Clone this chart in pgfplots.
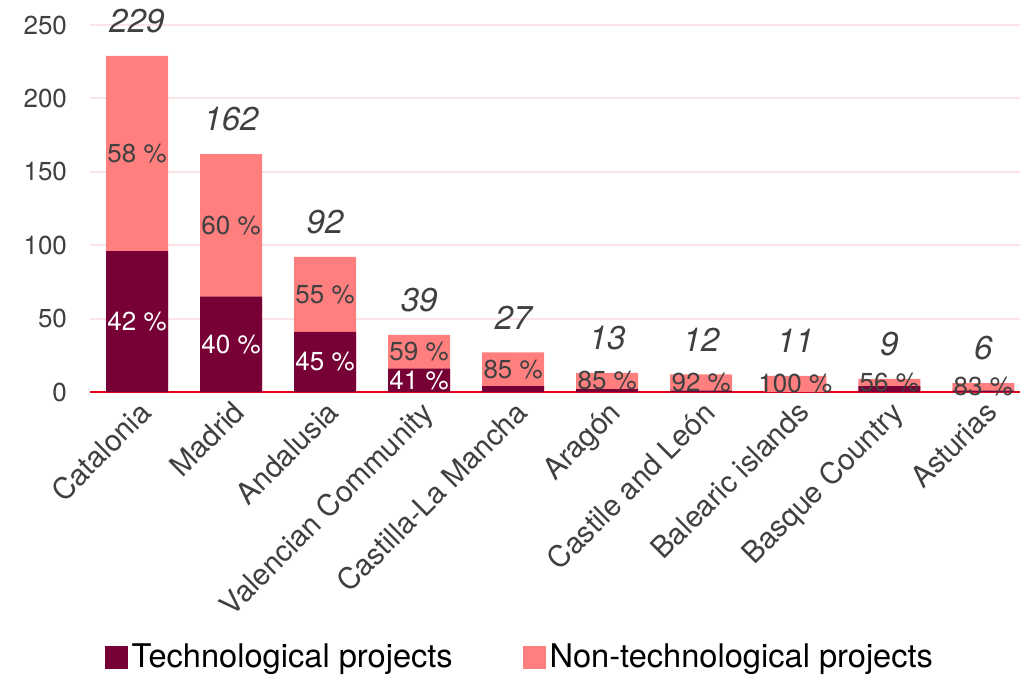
\documentclass[border=0pt]{standalone}
\usepackage{fontspec}
\setmainfont{TeX Gyre Heros}
\usepackage{pgfplots}
\pgfplotsset{compat=1.18}
\definecolor{Ctech}{HTML}{770036}
\definecolor{Cnon}{HTML}{FF7F7F}
\definecolor{Cgrid}{HTML}{FCE4E6}
\definecolor{Caxis}{HTML}{E5001A}
\definecolor{Ctext}{HTML}{404040}

% x, technological, non-technological, total
\pgfplotstableread{
x tech non total
0 96 133 229
1 65 97 162
2 41 51 92
3 16 23 39
4 4 23 27
5 2 11 13
6 1 11 12
7 0 11 11
8 4 5 9
9 1 5 6
}\regions

\begin{document}
\begin{tikzpicture}
\useasboundingbox (-45pt,-141.5pt) rectangle (465pt,196pt);
\begin{axis}[
  at={(0,0)}, anchor=south west,
  scale only axis,
  width=465pt, height=183.5pt,
  ybar, bar width=31pt, bar shift=0pt,
  xmin=-0.5, xmax=9.39,
  ymin=0, ymax=250,
  ytick={0,50,100,150,200,250},
  xtick=data,
  xticklabels={Catalonia,Madrid,Andalusia,Valencian Community,Castilla-La Mancha,Aragón,Castile and León,Balearic islands,Basque Country,Asturias},
  xticklabel style={rotate=45, anchor=north east, font=\fontsize{14.8}{16}\selectfont, text=Ctext, xshift=1pt, yshift=1pt},
  yticklabel style={font=\fontsize{13}{15}\selectfont, text=Ctext, xshift=-8pt},
  /pgf/number format/assume math mode=true,
  major tick length=0pt,
  axis lines=left,
  axis line style={-},
  y axis line style={draw=none},
  x axis line style={Caxis, line width=1pt},
  ymajorgrids, grid style={Cgrid, line width=1pt},
  clip=false,
  legend columns=2,
  legend cell align=left,
  legend style={at={(0.4634,-0.722)}, anchor=center, draw=none, fill=none,
    font=\fontsize{16.3}{18}\selectfont, text=black,
    /tikz/every even column/.append style={column sep=33pt}},
  legend image code/.code={\fill[#1] (0pt,-5.5pt) rectangle (11pt,5.5pt);},
]
\addplot[fill=Cnon, draw=none, bar shift=0pt, forget plot] table[x=x, y=total] {\regions};
\addplot[fill=Ctech, draw=none, bar shift=0pt, forget plot] table[x=x, y=tech] {\regions};

% share of non-technological projects
\addplot[only marks, mark=none, nodes near coords, point meta=explicit symbolic,
  every node near coord/.style={anchor=center, font=\fontsize{13}{15}\selectfont, text=Ctext}, forget plot]
  coordinates {
  (0,162.5) [58 \%]
  (1,113.5) [60 \%]
  (2,66.5) [55 \%]
  (3,27.5) [59 \%]
  (4,15.5) [85 \%]
  (5,7.5) [85 \%]
  (6,6.5) [92 \%]
  (7,5.5) [100 \%]
  (8,6.5) [56 \%]
  (9,3.5) [83 \%]
};
% share of technological projects
\addplot[only marks, mark=none, nodes near coords, point meta=explicit symbolic,
  every node near coord/.style={anchor=center, font=\fontsize{13}{15}\selectfont, text=white}, forget plot]
  coordinates {
  (0,48) [42 \%]
  (1,32.5) [40 \%]
  (2,20.5) [45 \%]
  (3,8) [41 \%]
};
% totals
\addplot[only marks, mark=none, nodes near coords, point meta=explicit symbolic,
  every node near coord/.style={anchor=center, yshift=17.5pt, font=\fontsize{16.5}{18}\selectfont\itshape, text=Ctext}, forget plot]
  table[x=x, y=total, meta=total] {\regions};

\addlegendimage{Ctech}
\addlegendentry{Technological projects}
\addlegendimage{Cnon}
\addlegendentry{Non-technological projects}
\end{axis}
\end{tikzpicture}
\end{document}
